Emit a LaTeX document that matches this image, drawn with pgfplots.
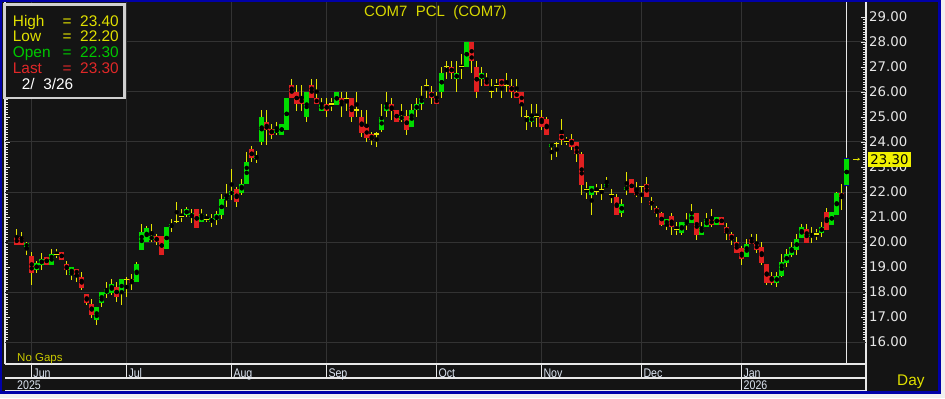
\documentclass[border=0pt]{standalone}
\usepackage{pgfplots}
\pgfplotsset{compat=1.18}
\usepackage{pgfplotstable}
\usetikzlibrary{arrows.meta}
\usepackage{fontspec}
\setmainfont{Liberation Sans}
\newfontfamily\dejavu{DejaVu Sans}
\newfontfamily\narrowf[FakeStretch=0.85]{Liberation Sans}

\definecolor{bgc}{HTML}{141414}
\definecolor{outerc}{HTML}{F0F0F0}
\definecolor{navyc}{HTML}{0000A8}
\definecolor{gridc}{HTML}{333333}
\definecolor{linec}{HTML}{E8E8E8}
\definecolor{tickc}{HTML}{E6E6E6}
\definecolor{wickc}{HTML}{E6E600}
\definecolor{upc}{HTML}{00DC00}
\definecolor{downc}{HTML}{E02020}
\definecolor{titlec}{HTML}{D8D800}
\definecolor{yelc}{HTML}{E0E000}
\definecolor{nogapc}{HTML}{C8C800}
\definecolor{legbord}{HTML}{D0D0D0}
\definecolor{opengreen}{HTML}{00C800}
\definecolor{lastred}{HTML}{E02828}
\definecolor{monthc}{HTML}{DCE4F0}
\definecolor{lastyel}{HTML}{F0F000}

\pgfplotstableread{
i o h l c
0 20.21 20.51 19.88 19.88
1 20.21 20.41 19.88 19.88
2 19.79 20.01 19.48 19.95
3 19.44 19.61 18.28 18.77
4 18.88 19.25 18.75 19.15
5 19.08 19.55 18.88 19.31
6 19.41 19.41 19.08 19.08
7 19.08 19.72 19.08 19.52
8 19.51 19.72 19.35 19.51
9 19.61 19.61 19.28 19.28
10 19.12 19.25 18.68 18.88
11 18.68 19.01 18.48 19.01
12 18.92 18.92 18.41 18.68
13 18.61 18.81 18.08 18.15
14 17.92 17.92 17.48 17.57
15 17.52 17.72 16.95 17.08
16 16.88 17.41 16.68 17.41
17 17.57 18.01 17.39 18.01
18 17.92 18.41 17.75 18.12
19 17.95 18.51 17.88 18.32
20 18.21 18.39 17.61 17.79
21 17.97 18.51 17.48 18.51
22 18.51 18.61 17.79 18.51
23 18.51 18.71 18.08 18.37
24 18.41 19.21 18.41 19.11
25 19.68 20.72 19.68 20.41
26 20.01 20.64 20.01 20.55
27 20.08 20.71 19.99 20.24
28 20.24 20.32 19.88 19.99
29 20.24 20.24 19.48 19.48
30 19.71 20.61 19.71 20.61
31 20.59 20.91 20.41 20.72
32 20.81 21.61 20.77 20.81
33 21.01 21.32 20.79 21.01
34 21.08 21.41 20.99 21.32
35 20.99 21.32 20.77 21.15
36 21.32 21.32 20.57 20.57
37 20.79 21.32 20.79 21.12
38 20.91 21.12 20.79 20.91
39 20.79 21.12 20.59 20.95
40 20.88 21.24 20.68 21.12
41 21.08 21.91 20.91 21.72
42 21.68 22.32 21.39 21.81
43 21.88 22.92 21.68 22.04
44 22.12 22.21 21.39 21.59
45 21.97 22.52 21.88 22.32
46 22.32 23.61 22.32 23.21
47 23.70 23.85 23.19 23.37
48 23.30 23.63 23.15 23.45
49 24.01 25.28 23.88 25.01
50 24.81 25.28 23.88 24.48
51 24.52 24.72 24.11 24.28
52 24.37 24.81 24.28 24.52
53 24.28 24.72 24.28 24.72
54 24.48 25.77 24.48 25.77
55 26.28 26.52 25.75 25.75
56 26.01 26.28 25.24 25.51
57 25.77 26.28 25.24 25.51
58 24.99 26.01 24.79 26.01
59 26.28 26.52 25.75 25.75
60 25.77 26.52 25.51 25.51
61 25.24 25.77 25.24 25.52
62 25.52 25.77 25.01 25.24
63 25.52 25.77 25.24 25.52
64 25.48 26.01 25.48 26.01
65 25.75 26.01 25.01 25.48
66 25.75 26.01 25.24 25.75
67 25.77 25.77 24.79 24.99
68 25.28 26.01 24.99 25.28
69 25.01 25.28 24.19 24.37
70 24.61 25.28 24.01 24.15
71 24.32 24.41 23.88 24.08
72 24.32 24.41 23.79 24.32
73 24.48 25.52 24.39 25.01
74 25.24 26.01 25.01 25.52
75 25.52 25.77 24.88 25.24
76 25.28 25.28 24.79 24.79
77 24.88 25.52 24.79 25.04
78 25.04 25.28 24.28 24.48
79 24.59 25.52 24.59 25.28
80 25.28 25.77 24.99 25.52
81 25.52 26.25 25.28 25.77
82 26.25 26.51 25.77 26.25
83 26.01 26.25 25.52 25.77
84 25.77 26.01 25.52 25.52
85 26.01 27.01 25.77 26.77
86 27.01 27.25 26.51 27.01
87 27.01 27.25 26.51 26.75
88 26.51 27.25 26.01 26.75
89 27.01 27.51 26.51 27.01
90 27.01 28.01 27.01 28.01
91 28.01 28.01 26.75 27.25
92 27.01 27.25 25.77 26.01
93 26.51 27.01 26.25 26.75
94 26.51 26.75 26.25 26.25
95 26.01 26.51 25.77 26.01
96 26.25 26.51 26.01 26.25
97 26.51 26.51 25.77 26.25
98 26.25 26.77 26.01 26.25
99 26.25 26.51 25.77 26.01
100 26.01 26.51 25.77 25.77
101 26.01 26.01 25.01 25.52
102 25.01 25.28 24.48 25.01
103 24.79 25.52 24.59 25.01
104 25.01 25.52 24.59 25.01
105 25.01 25.28 24.48 24.59
106 24.90 25.01 24.28 24.28
107 23.81 23.92 23.28 23.92
108 23.95 24.01 23.39 23.95
109 24.32 24.92 23.88 24.08
110 24.01 24.21 23.88 24.01
111 24.11 24.32 23.68 23.79
112 24.01 24.01 23.19 23.52
113 23.52 23.61 21.88 22.28
114 22.11 22.41 21.71 22.11
115 21.88 22.24 21.08 22.24
116 22.01 22.32 21.88 22.01
117 22.11 22.32 21.68 22.11
118 22.19 22.61 22.19 22.32
119 21.91 22.11 21.57 21.91
120 21.81 21.91 21.08 21.08
121 21.17 21.71 20.99 21.51
122 22.08 22.81 21.88 22.21
123 22.52 22.52 21.97 21.97
124 22.01 22.41 21.79 21.88
125 22.21 22.21 21.57 22.21
126 22.32 22.61 21.81 21.81
127 21.64 21.81 21.28 21.48
128 21.35 21.44 20.99 21.17
129 21.15 21.21 20.64 20.68
130 20.68 20.91 20.48 20.91
131 21.04 21.15 20.28 20.59
132 20.51 20.81 20.28 20.51
133 20.37 20.81 20.28 20.81
134 20.68 21.15 20.48 20.81
135 20.77 21.52 20.77 21.15
136 21.15 21.15 20.08 20.28
137 20.28 20.81 20.28 20.61
138 20.59 21.15 20.59 20.91
139 20.91 21.31 20.59 20.68
140 20.68 21.01 20.68 21.01
141 21.01 21.01 20.68 20.68
142 20.61 20.75 20.08 20.37
143 20.32 20.41 19.88 20.08
144 20.01 20.21 19.55 19.55
145 19.75 19.84 19.08 19.31
146 19.39 20.11 19.39 19.92
147 20.11 20.32 19.92 19.92
148 19.92 20.32 19.57 19.68
149 19.81 20.01 19.08 19.15
150 19.12 19.12 18.28 18.35
151 18.64 18.81 18.28 18.35
152 18.37 18.81 18.19 18.64
153 18.64 19.52 18.59 19.21
154 19.17 19.71 18.99 19.52
155 19.48 20.01 19.39 19.81
156 19.68 20.32 19.48 20.11
157 20.15 20.72 20.15 20.61
158 20.51 20.72 19.97 19.97
159 20.19 20.61 19.95 20.32
160 20.32 20.51 20.08 20.32
161 20.37 20.81 20.19 20.61
162 21.21 21.35 20.48 20.48
163 20.68 21.21 20.68 21.21
164 21.08 22.01 21.08 21.95
165 21.95 22.32 21.28 21.79
166 22.30 23.40 22.20 23.30
}\candles

\begin{document}
\begin{tikzpicture}[x=1bp,y=1bp]
\useasboundingbox (0,0) rectangle (945,398);
\fill[outerc] (0,0) rectangle (945,398);
\fill[navyc] (0,4) rectangle (941,398);
\fill[bgc] (2,7) rectangle (938,396);
\begin{axis}[
  scale only axis, width=861bp, height=362bp,
  at={(5bp,34bp)}, anchor=south west,
  xmin=-2.34, xmax=169.86, ymin=15.12, ymax=29.6,
  axis x line*=bottom, axis y line*=box,
  axis line style={linec, line width=1.3bp},
  tick align=inside,
  major tick length=5bp, minor tick length=3bp,
  every tick/.style={tickc, line width=0.8bp},
  xtick={3,22,43,62,84,105,125,145},
  xticklabels={},
  xmajorticks=false,
  xmajorgrids=true,
  ytick={16,...,29},
  minor y tick num=9,
  yticklabel pos=right,
  yticklabel={\pgfmathprintnumber[fixed,fixed zerofill,precision=2,assume math mode=true]{\tick}},
  yticklabel style={anchor=west, inner sep=0pt, xshift=3bp,
    font=\dejavu\fontsize{13.3bp}{15bp}\selectfont, text=tickc},
  extra y ticks={16,18,20,22,24,26,28},
  extra y tick labels={},
  extra y tick style={grid=major, major tick length=0pt},
  major grid style={gridc, line width=1bp},
]
% cursor line
\draw[linec, line width=1.2bp] (axis cs:166,15.12) -- (axis cs:166,29.6);
% wicks
\addplot[only marks, mark=none,
  error bars/.cd, y dir=both, y explicit, error mark=none,
  error bar style={draw=wickc, line width=1.1bp}]
  table[x=i, y expr={(\thisrow{h}+\thisrow{l})/2}, y error expr={(\thisrow{h}-\thisrow{l})/2}] {\candles};
% caps of the selected (last) candle
\addplot[only marks, mark=none,
  error bars/.cd, y dir=both, y explicit, error mark=none,
  error bar style={draw=navyc, line width=4.5bp}]
  coordinates {(166,22.80) +- (0,0.55)};
% rising bodies
\addplot[only marks, mark=none,
  restrict expr to domain={\thisrow{c}-\thisrow{o}}{0.001:1000},
  error bars/.cd, y dir=both, y explicit, error mark=none,
  error bar style={draw=upc, line width=4.5bp}]
  table[x=i, y expr={(\thisrow{o}+\thisrow{c})/2}, y error expr={abs(\thisrow{c}-\thisrow{o})/2}] {\candles};
% falling bodies
\addplot[only marks, mark=none,
  restrict expr to domain={\thisrow{o}-\thisrow{c}}{0.001:1000},
  error bars/.cd, y dir=both, y explicit, error mark=none,
  error bar style={draw=downc, line width=4.5bp}]
  table[x=i, y expr={(\thisrow{o}+\thisrow{c})/2}, y error expr={abs(\thisrow{c}-\thisrow{o})/2}] {\candles};
% doji
\addplot[only marks, mark=-, mark size=2.7bp, mark options={draw=wickc, line width=1.1bp},
  restrict expr to domain={abs(\thisrow{c}-\thisrow{o})}{-1:0.001}]
  table[x=i, y=c] {\candles};
\end{axis}
% date axis rows
\draw[linec, line width=1.3bp] (5,20) -- (866,20);
\draw[linec, line width=1.3bp] (5,7.6) -- (866,7.6);
\draw[linec, line width=1.3bp] (866,7) -- (866,34);
\foreach \xx in {31.7,126.7,231.7,326.7,436.7,541.7,641.7,741.7}
  \draw[linec, line width=1.3bp] (\xx,20) -- (\xx,34);
\draw[linec, line width=1.3bp] (741.7,7.6) -- (741.7,20);
\tikzset{mo/.style={anchor=base west, inner sep=0pt, font=\narrowf\fontsize{12.5bp}{14bp}\selectfont, text=monthc}}
\node[mo] at (33.3,21) {Jun};
\node[mo] at (128.3,21) {Jul};
\node[mo] at (233.3,21) {Aug};
\node[mo] at (328.3,21) {Sep};
\node[mo] at (438.3,21) {Oct};
\node[mo] at (543.3,21) {Nov};
\node[mo] at (643.3,21) {Dec};
\node[mo] at (743.3,21) {Jan};
\node[mo] at (17,8.6) {2025};
\node[mo] at (743.5,8.6) {2026};
% title and captions
\node[anchor=base west, inner sep=0pt, font=\fontsize{15bp}{18bp}\selectfont, text=titlec] at (364,381.3) {COM7~~PCL~~(COM7)};
\node[anchor=base west, inner sep=0pt, font=\fontsize{11.5bp}{13bp}\selectfont, text=nogapc] at (17,36.3) {No Gaps};
\node[anchor=base west, inner sep=0pt, font=\fontsize{15.4bp}{18bp}\selectfont, text=yelc] at (897,13) {Day};
% last price marker
\node[fill=lastyel, text=black, inner sep=0pt, minimum width=42.4bp, minimum height=15bp,
  font=\dejavu\fontsize{13.3bp}{15bp}\selectfont] at (889.5,238.8) {23.30};
\draw[yelc, line width=0.8bp, -{Stealth[length=2.5bp,width=3bp]}] (853,238.8) -- (860,238.8);
% info box
\draw[legbord, line width=2.6bp, fill=bgc] (4.7,393.3) rectangle (124.7,300);
\tikzset{lg/.style={anchor=base west, inner sep=0pt, font=\fontsize{15.4bp}{18bp}\selectfont}}
\node[lg, text=yelc] at (12.7,372) {High};
\node[lg, text=yelc, anchor=base] at (67,372) {=};
\node[lg, text=yelc] at (80,372) {23.40};
\node[lg, text=yelc] at (12.7,356.3) {Low};
\node[lg, text=yelc, anchor=base] at (67,356.3) {=};
\node[lg, text=yelc] at (80,356.3) {22.20};
\node[lg, text=opengreen] at (12.7,340.3) {Open};
\node[lg, text=opengreen, anchor=base] at (67,340.3) {=};
\node[lg, text=opengreen] at (80,340.3) {22.30};
\node[lg, text=lastred] at (12.7,324.3) {Last};
\node[lg, text=lastred, anchor=base] at (67,324.3) {=};
\node[lg, text=lastred] at (80,324.3) {23.30};
\node[lg, text=white] at (21.7,308.3) {2/~~3/26};
\end{tikzpicture}
\end{document}
